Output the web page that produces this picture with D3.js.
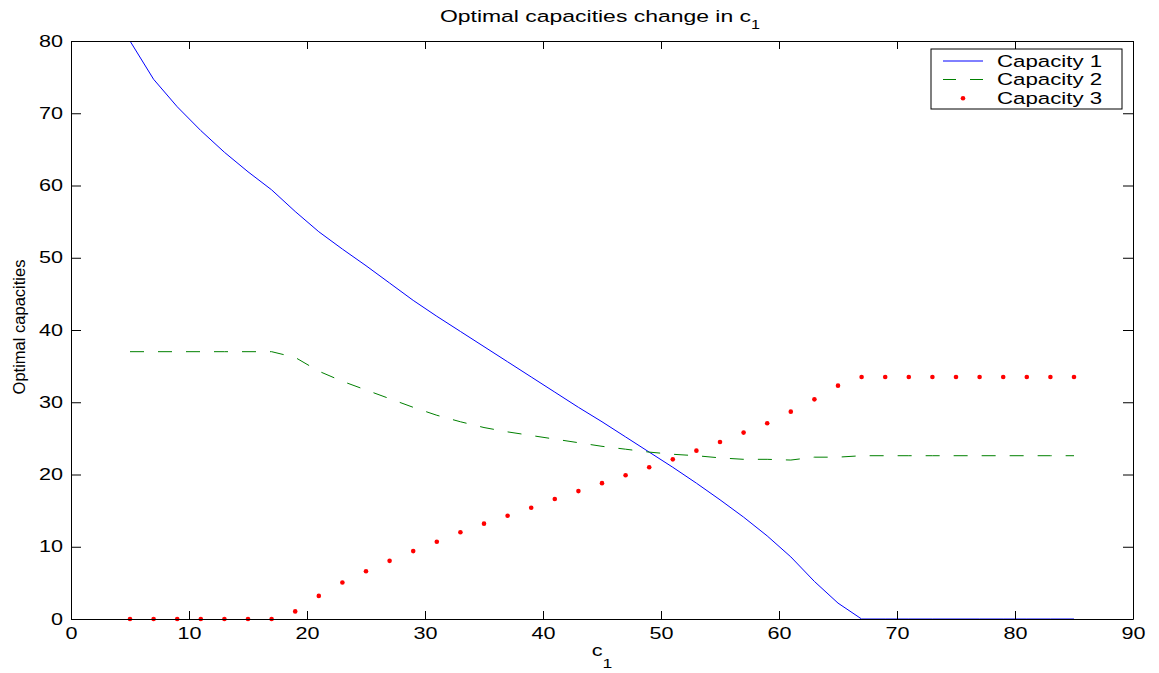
<!DOCTYPE html>
<html>
<head>
<meta charset="utf-8">
<script src="https://cdn.jsdelivr.net/npm/d3@7"></script>
<style>
  html, body { margin: 0; padding: 0; background: #fff; }
  svg { display: block; font-family: "Liberation Sans", Arial, Helvetica, sans-serif; }
</style>
</head>
<body>
<svg id="chart" width="1159" height="673"></svg>
<script>
// ---- data ----
const c1Values = [5, 7, 9, 11, 13, 15, 17, 19, 21, 23, 25, 27, 29, 31, 33, 35, 37, 39, 41, 43, 45,
                  47, 49, 51, 53, 55, 57, 59, 61, 63, 65, 67, 69, 71, 73, 75, 77, 79, 81, 83, 85];
const capacity1 = [80.0, 74.7, 70.9, 67.6, 64.6, 61.9, 59.4, 56.4, 53.6, 51.2, 48.9, 46.5, 44.1, 41.9,
                   39.8, 37.7, 35.6, 33.5, 31.4, 29.3, 27.3, 25.2, 23.1, 21.0, 18.8, 16.5, 14.1, 11.5,
                   8.6, 5.2, 2.2, 0, 0, 0, 0, 0, 0, 0, 0, 0, 0];
const capacity2 = [37, 37, 37, 37, 37, 37, 37, 36.2, 34.3, 32.9, 31.7, 30.5, 29.3, 28.2, 27.3, 26.5,
                   25.9, 25.4, 24.9, 24.4, 23.9, 23.5, 23.1, 22.8, 22.6, 22.3, 22.1, 22.1, 22.0, 22.4,
                   22.4, 22.6, 22.6, 22.6, 22.6, 22.6, 22.6, 22.6, 22.6, 22.6, 22.6];
const capacity3 = [0, 0, 0, 0, 0, 0, 0, 1.05, 3.2, 5.05, 6.6, 8.05, 9.4, 10.7, 12.0, 13.2, 14.3, 15.4,
                   16.6, 17.7, 18.8, 19.9, 21.0, 22.1, 23.3, 24.5, 25.8, 27.1, 28.7, 30.4, 32.3,
                   33.5, 33.5, 33.5, 33.5, 33.5, 33.5, 33.5, 33.5, 33.5, 33.5];
const xTicks = [0, 10, 20, 30, 40, 50, 60, 70, 80, 90];
const yTicks = [0, 10, 20, 30, 40, 50, 60, 70, 80];
const seriesNames = ["Capacity 1", "Capacity 2", "Capacity 3"];
const titleText = "Optimal capacities change in c";
const xLabelText = "c";
const yLabelText = "Optimal capacities";

// ---- layout ----
const L = 71, R = 1133, T = 41, B = 619;
const SX = 1.35; // horizontal text stretch of the original figure
const svg = d3.select("#chart");

const x = d3.scaleLinear().domain([0, 90]).range([L, R]);
const y = d3.scaleLinear().domain([0, 80]).range([B, T]);

// ---- series ----
const pts = (vals) => c1Values.map((c, i) => [c, vals[i]]);
const line = d3.line().x(d => x(d[0])).y(d => y(d[1]));

svg.append("path").datum(pts(capacity1))
  .attr("d", line).attr("fill", "none").attr("stroke", "#0000ff").attr("stroke-width", 1);

svg.append("path").datum(pts(capacity2))
  .attr("d", line).attr("fill", "none").attr("stroke", "#008000").attr("stroke-width", 1)
  .attr("stroke-dasharray", "14,14");

svg.append("g").selectAll("circle").data(pts(capacity3)).join("circle")
  .attr("cx", d => x(d[0])).attr("cy", d => y(d[1])).attr("r", 2.3).attr("fill", "#ff0000");

// ---- axes ----
function styleAxis(g) {
  g.selectAll("line").attr("stroke", "#000").attr("stroke-width", 1);
  g.select(".domain").attr("stroke", "#000").attr("stroke-width", 1);
}
const gx = svg.append("g").attr("transform", `translate(0,${B})`)
  .call(d3.axisBottom(x).tickValues(xTicks).tickSizeInner(-8).tickSizeOuter(0).tickPadding(9))
  .call(styleAxis);
gx.selectAll("text").attr("font-size", 16).attr("fill", "#000")
  .attr("font-family", "Liberation Sans, Arial, sans-serif")
  .attr("transform", `scale(${SX},1)`);

const gy = svg.append("g").attr("transform", `translate(${L},0)`)
  .call(d3.axisLeft(y).tickValues(yTicks).tickSizeInner(-10).tickSizeOuter(0).tickPadding(8))
  .call(styleAxis);
gy.selectAll("text").attr("font-size", 16).attr("fill", "#000")
  .attr("font-family", "Liberation Sans, Arial, sans-serif")
  .attr("x", -8 / SX)
  .attr("transform", `scale(${SX},1)`);

svg.append("g").attr("transform", `translate(0,${T})`)
  .call(d3.axisTop(x).tickValues(xTicks).tickSizeInner(-8).tickSizeOuter(0).tickFormat(""))
  .call(styleAxis);
svg.append("g").attr("transform", `translate(${R},0)`)
  .call(d3.axisRight(y).tickValues(yTicks).tickSizeInner(-10).tickSizeOuter(0).tickFormat(""))
  .call(styleAxis);

// ---- title & labels ----
const title = svg.append("text")
  .attr("transform", `translate(600,22) scale(${SX},1)`)
  .attr("text-anchor", "middle").attr("font-size", 17).attr("fill", "#000");
title.append("tspan").text(titleText);
title.append("tspan").attr("font-size", 12).attr("dy", 6.5).text("1");

const xl = svg.append("text")
  .attr("transform", `translate(602,656) scale(${SX},1)`)
  .attr("text-anchor", "middle").attr("font-size", 16).attr("fill", "#000");
xl.append("tspan").text(xLabelText);
xl.append("tspan").attr("font-size", 13).attr("dy", 12).text("1");

svg.append("text")
  .attr("transform", "translate(25,327) rotate(-90)")
  .attr("text-anchor", "middle").attr("font-size", 16.5).attr("fill", "#000")
  .text(yLabelText);

// ---- legend ----
const lg = svg.append("g");
lg.append("rect").attr("x", 931).attr("y", 49).attr("width", 191).attr("height", 60)
  .attr("fill", "#fff").attr("stroke", "#000").attr("stroke-width", 1);
const rowsY = [61, 79.5, 98.3];
lg.append("line").attr("x1", 943).attr("x2", 983).attr("y1", rowsY[0]).attr("y2", rowsY[0])
  .attr("stroke", "#0000ff").attr("stroke-width", 1);
lg.append("line").attr("x1", 943).attr("x2", 983).attr("y1", rowsY[1]).attr("y2", rowsY[1])
  .attr("stroke", "#008000").attr("stroke-width", 1).attr("stroke-dasharray", "13,14");
lg.append("circle").attr("cx", 963).attr("cy", rowsY[2]).attr("r", 2.3).attr("fill", "#ff0000");
seriesNames.forEach((name, i) => {
  lg.append("text")
    .attr("transform", `translate(997,${rowsY[i] + 5.5}) scale(${SX},1)`)
    .attr("font-size", 16.5).attr("fill", "#000").text(name);
});
</script>
</body>
</html>
